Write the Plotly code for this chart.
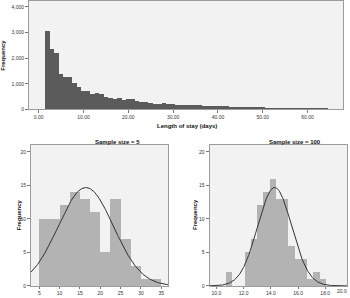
import math
import numpy as np
import plotly.graph_objects as go

# ---------------- data ----------------
# Top: length of stay histogram (bin width 1 day, centred on whole days)
los_bin_centers = list(range(2, 65))
los_counts = [3065, 2375, 2190, 1380, 1275, 1275, 1045, 870, 740, 715,
              590, 635, 590, 490, 435, 390, 460, 360, 410, 410,
              330, 305, 295, 255, 230, 220, 265, 230, 205, 190,
              180, 170, 175, 190, 160, 150, 140, 130, 125, 120,
              135, 115, 100, 95, 90, 85, 95, 90, 80, 75,
              70, 65, 70, 60, 75, 65, 55, 55, 50, 45,
              55, 60, 50]
los_bin_width = 1.0

# Bottom left: sample means, sample size = 5
s5_bin_centers = [6.25, 8.75, 11.25, 13.75, 16.25, 18.75, 21.25, 23.75, 26.25, 28.75, 31.25, 33.75]
s5_counts = [10, 10, 12, 14, 13, 11, 5, 13, 7, 3, 1, 1]
s5_bin_width = 2.5
s5_mean, s5_sd = 16.45, 6.8

# Bottom right: sample means, sample size = 100
s100_bin_centers = [10.89, 11.35, 11.81, 12.27, 12.73, 13.19, 13.65, 14.11,
                    14.57, 15.03, 15.49, 15.95, 16.41, 16.87, 17.33, 17.79]
s100_counts = [2, 0, 0, 5, 7, 12, 14, 16, 13, 13, 6, 4, 4, 1, 2, 1]
s100_bin_width = 0.46
s100_mean, s100_sd = 14.28, 1.25

top_x_ticks = [0, 10, 20, 30, 40, 50, 60]
top_y_ticks = [0, 1000, 2000, 3000, 4000]
s5_x_ticks = [5, 10, 15, 20, 25, 30, 35]
s100_x_ticks = [10, 12, 14, 16, 18]
s100_last_tick_label = "20.0"
bottom_y_ticks = [0, 5, 10, 15, 20]

# ---------------- styling ----------------
FONT = "Liberation Sans, Arial, sans-serif"
TOP_BAR = "#5b5b5b"
BOT_BAR = "#b3b3b3"
PLOT_BG = "#f2f2f2"
FRAME = "#9c9c9c"

top_xrange = [-2.15, 67.9]
top_yrange = [0, 4230]
s5_xrange = [2.96, 36.75]
s100_xrange = [9.49, 19.6]
bot_yrange = [0, 21.0]


def normal_curve(mean, sd, n, width, xr):
    xs = np.linspace(xr[0], xr[1], 300)
    ys = n * width / (sd * math.sqrt(2 * math.pi)) * np.exp(-0.5 * ((xs - mean) / sd) ** 2)
    return xs, ys


fig = go.Figure()

fig.add_trace(go.Bar(x=los_bin_centers, y=los_counts, width=los_bin_width,
                     marker=dict(color=TOP_BAR, line=dict(color=TOP_BAR, width=0)),
                     xaxis="x", yaxis="y", showlegend=False))

fig.add_trace(go.Bar(x=s5_bin_centers, y=s5_counts, width=s5_bin_width,
                     marker=dict(color=BOT_BAR, line=dict(width=0)),
                     xaxis="x2", yaxis="y2", showlegend=False))
cx, cy = normal_curve(s5_mean, s5_sd, sum(s5_counts), s5_bin_width, s5_xrange)
fig.add_trace(go.Scatter(x=cx, y=cy, mode="lines", line=dict(color="#333333", width=1),
                         xaxis="x2", yaxis="y2", showlegend=False, cliponaxis=True))

fig.add_trace(go.Bar(x=s100_bin_centers, y=s100_counts, width=s100_bin_width,
                     marker=dict(color=BOT_BAR, line=dict(width=0)),
                     xaxis="x3", yaxis="y3", showlegend=False))
cx, cy = normal_curve(s100_mean, s100_sd, sum(s100_counts), s100_bin_width, s100_xrange)
fig.add_trace(go.Scatter(x=cx, y=cy, mode="lines", line=dict(color="#333333", width=1),
                         xaxis="x3", yaxis="y3", showlegend=False, cliponaxis=True))

axis_common = dict(showline=True, mirror=True, linecolor=FRAME, linewidth=1,
                   showgrid=False, zeroline=False, ticks="outside", ticklen=3,
                   tickcolor="#777777", tickwidth=1,
                   tickfont=dict(family=FONT, size=5, color="#333333"))
xbot_common = dict(axis_common)
xbot_common["ticklen"] = 2

fig.update_layout(
    width=350, height=298,
    margin=dict(l=0, r=0, t=0, b=0),
    paper_bgcolor="white", plot_bgcolor=PLOT_BG,
    bargap=0, barmode="overlay",
    font=dict(family=FONT, size=6, color="#111111"),
    xaxis=dict(domain=[0.083, 0.98], anchor="y", range=top_xrange,
               tickvals=top_x_ticks, tickformat=".2f", **axis_common),
    yaxis=dict(domain=[0.631, 1.0], anchor="x", range=top_yrange,
               tickvals=top_y_ticks, tickformat=",", **axis_common),
    xaxis2=dict(domain=[0.0886, 0.481], anchor="y2", range=s5_xrange,
                tickvals=s5_x_ticks, **xbot_common),
    yaxis2=dict(domain=[0.031, 0.51], anchor="x2", range=bot_yrange,
                tickvals=bottom_y_ticks, **axis_common),
    xaxis3=dict(domain=[0.5986, 0.9914], anchor="y3", range=s100_xrange,
                tickvals=s100_x_ticks, tickformat=".1f", **xbot_common),
    yaxis3=dict(domain=[0.031, 0.51], anchor="x3", range=bot_yrange,
                tickvals=bottom_y_ticks, **axis_common),
)

title_font = dict(family=FONT, size=6, color="#111111")
ann = [
    dict(text="<b>Length of stay (days)</b>", x=186.7 / 350, y=1 - 126.5 / 298),
    dict(text="<b>Frequency</b>", x=3.5 / 350, y=1 - 55 / 298, textangle=-90),
    dict(text="<b>Frequency</b>", x=19.3 / 350, y=1 - 217 / 298, textangle=-90),
    dict(text="<b>Frequency</b>", x=195 / 350, y=1 - 217 / 298, textangle=-90),
    dict(text="<b>Sample size = 5</b>", x=117 / 350, y=1 - 142.5 / 298),
    dict(text="<b>Sample size = 100</b>", x=295 / 350, y=1 - 142.5 / 298),
]
for a in ann:
    fig.add_annotation(xref="paper", yref="paper", showarrow=False,
                       xanchor="center", yanchor="middle", font=title_font, **a)
# last tick label of the right panel, pulled inside the frame as in the original
fig.add_annotation(xref="paper", yref="paper", showarrow=False, text=s100_last_tick_label,
                   x=341.5 / 350, y=1 - 294 / 298, xanchor="center", yanchor="middle",
                   font=dict(family=FONT, size=5, color="#333333"))

fig.write_html("out.html", config={"displayModeBar": False},
               post_script="document.body.style.margin='0';document.body.style.overflow='hidden';")
